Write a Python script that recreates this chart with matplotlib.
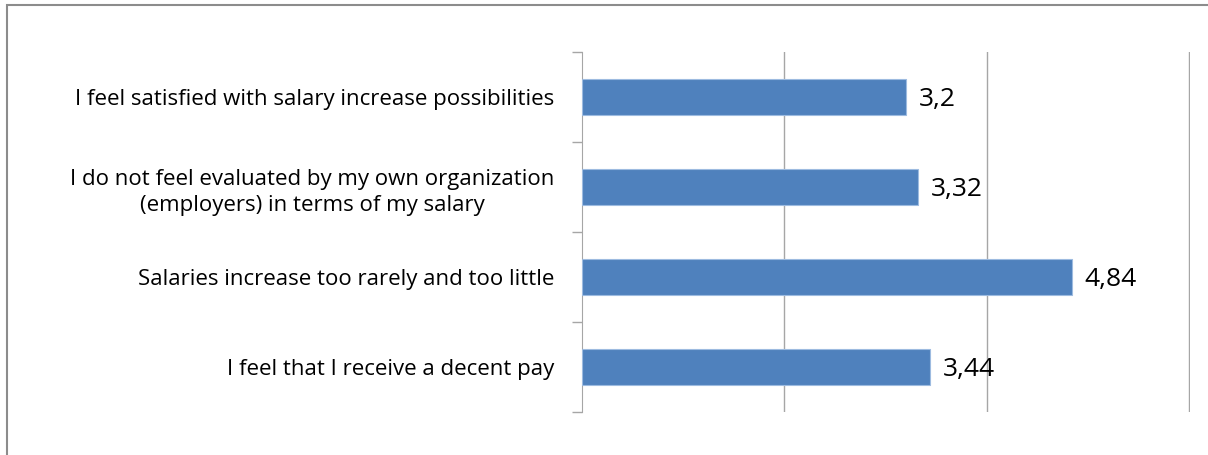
import matplotlib.pyplot as plt
from matplotlib.patches import Rectangle

categories = [
    "I feel satisfied with salary increase possibilities",
    "I do not feel evaluated by my own organization\n(employers) in terms of my salary",
    "Salaries increase too rarely and too little",
    "I feel that I receive a decent pay",
]
values = [3.2, 3.32, 4.84, 3.44]
value_labels = ["3,2", "3,32", "4,84", "3,44"]

plt.rcParams['font.family'] = ['Open Sans', 'DejaVu Sans']

fig = plt.figure(figsize=(12.08, 4.55), dpi=100)
ax = fig.add_axes([582 / 1208, 1 - 412 / 455, (1190 - 582) / 1208, 360 / 455])

# chart border like excel
fig.patches.append(Rectangle((7 / 1208, -0.1), 1.2, 1 - 5 / 455 + 0.1, transform=fig.transFigure,
                             fill=False, edgecolor='#8c8c8c', linewidth=1.5))

pos = list(range(len(categories)))
ax.barh(pos, values, height=0.4, color='#4F81BD', edgecolor='#9dbbe0', linewidth=0.8, zorder=3)

for p, v, t in zip(pos, values, value_labels):
    ax.text(v + 0.13, p + 0.03, t, va='center', ha='left', fontsize=19, color='black')

ax.set_xlim(0, 6.01)
ax.set_ylim(len(categories) - 0.5, -0.5)
ax.set_xticks([2, 4, 6])
ax.xaxis.grid(True, color='#a6a6a6', linewidth=1)
ax.tick_params(axis='x', length=0, labelbottom=False)

ax.set_yticks(pos)
ax.set_yticklabels(categories, fontsize=16, multialignment='center', linespacing=1.35)
ax.set_yticks([p - 0.5 for p in pos] + [len(pos) - 0.5], minor=True)
ax.tick_params(axis='y', which='major', length=0, pad=20)
ax.tick_params(axis='y', which='minor', length=7, color='#a6a6a6', width=1)

for s in ['top', 'right', 'bottom']:
    ax.spines[s].set_visible(False)
ax.spines['left'].set_color('#a6a6a6')
ax.set_axisbelow(True)

fig.savefig('out.png', dpi=100)
